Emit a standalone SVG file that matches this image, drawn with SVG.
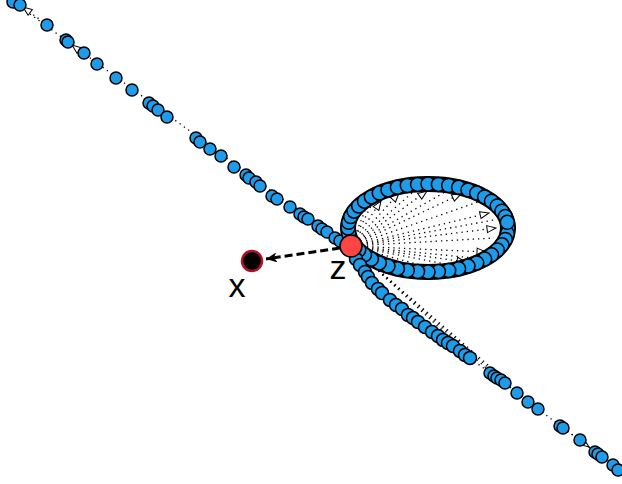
<svg xmlns="http://www.w3.org/2000/svg" width="622" height="484" viewBox="0 0 622 484">
<style>
.d{fill:#1e9be9;stroke:#000;stroke-width:1.5}
.c{fill:none;stroke:#000;stroke-width:1.3;stroke-dasharray:1.3 4}
.band{fill:none;stroke:#000;stroke-width:16}
.lbl{font-family:"Liberation Sans",Arial,sans-serif;font-size:34px;fill:#000;text-anchor:middle}
</style>
<defs>
<marker id="oa" markerUnits="userSpaceOnUse" markerWidth="11" markerHeight="9" refX="10" refY="4.5" orient="auto"><path d="M1,1 L10,4.5 L1,8 z" fill="#fff" stroke="#000" stroke-width="1"/></marker>
<marker id="fa" markerUnits="userSpaceOnUse" markerWidth="12" markerHeight="10" refX="11" refY="5" orient="auto"><path d="M0,0 L11,5 L0,10 L3,5 z" fill="#000"/></marker>
</defs>
<g id="connectors">
<path class="c" d="M0,-8 L340,241"/>
<path class="c" d="M351,246 L472,358"/>
<path class="c" d="M470,358 L622,472"/>
<path class="c" d="M351,246 L486,368"/>
<path class="c" d="M351,246 L510,384"/>
<path class="c" d="M351,246 L498,376"/>
<path class="c" d="M47,25 L23,7" marker-end="url(#oa)"/>
<path class="c" d="M97,64 L72,45" marker-end="url(#oa)"/>
<path class="c" d="M390,300 L424,325" marker-end="url(#oa)"/>
<path class="c" d="M497,378 L522,396" marker-end="url(#oa)"/>
<path class="c" d="M563,428 L589,447" marker-end="url(#oa)"/>
<path class="c" d="M351,246 L381,201" marker-end="url(#oa)"/>
<path class="c" d="M351,246 L399,193" marker-end="url(#oa)"/>
<path class="c" d="M351,246 L427,191" marker-end="url(#oa)"/>
<path class="c" d="M351,246 L461,194" marker-end="url(#oa)"/>
<path class="c" d="M351,246 L489,213" marker-end="url(#oa)"/>
<path class="c" d="M351,246 L496,228" marker-end="url(#oa)"/>
<path class="c" d="M351,246 L486,252" marker-end="url(#oa)"/>
<path class="c" d="M351,246 L466,262" marker-end="url(#oa)"/>
<path class="c" d="M351,246 L366,208"/>
<path class="c" d="M351,246 L372,204"/>
<path class="c" d="M351,246 L412,193"/>
<path class="c" d="M351,246 L445,192"/>
<path class="c" d="M351,246 L478,202"/>
<path class="c" d="M351,246 L494,220"/>
<path class="c" d="M351,246 L494,238"/>
<path class="c" d="M351,246 L474,258"/>
<path class="c" d="M351,246 L445,264"/>
<path class="c" d="M351,246 L420,265"/>
<path d="M340,248 L266,259" fill="none" stroke="#000" stroke-width="3" stroke-dasharray="8 4" marker-end="url(#fa)"/>
</g>
<ellipse class="band" cx="428" cy="228" rx="80" ry="44"/>
<g id="n1"><circle class="d" cx="13" cy="2" r="6"/></g>
<g id="n2"><circle class="d" cx="20" cy="5" r="6"/></g>
<g id="n3"><circle class="d" cx="47" cy="25" r="6"/></g>
<g id="n4"><circle class="d" cx="66" cy="40" r="6"/></g>
<g id="n5"><circle class="d" cx="68" cy="42" r="6"/></g>
<g id="n6"><circle class="d" cx="84" cy="53" r="6"/></g>
<g id="n7"><circle class="d" cx="97" cy="64" r="6"/></g>
<g id="n8"><circle class="d" cx="116" cy="78" r="6"/></g>
<g id="n9"><circle class="d" cx="132" cy="90" r="6"/></g>
<g id="n10"><circle class="d" cx="149" cy="103" r="6"/></g>
<g id="n11"><circle class="d" cx="153" cy="106" r="6"/></g>
<g id="n12"><circle class="d" cx="158" cy="110" r="6"/></g>
<g id="n13"><circle class="d" cx="167" cy="117" r="6"/></g>
<g id="n14"><circle class="d" cx="196" cy="138" r="6"/></g>
<g id="n15"><circle class="d" cx="200" cy="142" r="6"/></g>
<g id="n16"><circle class="d" cx="210" cy="149" r="6"/></g>
<g id="n17"><circle class="d" cx="221" cy="156" r="6"/></g>
<g id="n18"><circle class="d" cx="234" cy="167" r="6"/></g>
<g id="n19"><circle class="d" cx="246" cy="175" r="6"/></g>
<g id="n20"><circle class="d" cx="249" cy="178" r="6"/></g>
<g id="n21"><circle class="d" cx="256" cy="182" r="6"/></g>
<g id="n22"><circle class="d" cx="260" cy="186" r="6"/></g>
<g id="n23"><circle class="d" cx="272" cy="196" r="6"/></g>
<g id="n24"><circle class="d" cx="277" cy="199" r="6"/></g>
<g id="n25"><circle class="d" cx="290" cy="207" r="6"/></g>
<g id="n26"><circle class="d" cx="300" cy="214" r="6"/></g>
<g id="n27"><circle class="d" cx="304" cy="217" r="6"/></g>
<g id="n28"><circle class="d" cx="308" cy="219" r="6"/></g>
<g id="n29"><circle class="d" cx="318" cy="226" r="6"/></g>
<g id="n30"><circle class="d" cx="322" cy="229" r="6"/></g>
<g id="n31"><circle class="d" cx="327" cy="232" r="6"/></g>
<g id="n32"><circle class="d" cx="335" cy="238" r="6"/></g>
<g id="n33"><circle class="d" cx="340" cy="241" r="6"/></g>
<g id="r1"><circle class="d" cx="508" cy="228" r="7"/></g>
<g id="r2"><circle class="d" cx="507.3" cy="233.7" r="7"/></g>
<g id="r3"><circle class="d" cx="505.3" cy="239.4" r="7"/></g>
<g id="r4"><circle class="d" cx="501.9" cy="244.8" r="7"/></g>
<g id="r5"><circle class="d" cx="497.3" cy="250" r="7"/></g>
<g id="r6"><circle class="d" cx="491.5" cy="254.8" r="7"/></g>
<g id="r7"><circle class="d" cx="484.6" cy="259.1" r="7"/></g>
<g id="r8"><circle class="d" cx="476.7" cy="262.9" r="7"/></g>
<g id="r9"><circle class="d" cx="468" cy="266.1" r="7"/></g>
<g id="r10"><circle class="d" cx="458.6" cy="268.7" r="7"/></g>
<g id="r11"><circle class="d" cx="448.7" cy="270.5" r="7"/></g>
<g id="r12"><circle class="d" cx="438.4" cy="271.6" r="7"/></g>
<g id="r13"><circle class="d" cx="428" cy="272" r="7"/></g>
<g id="r14"><circle class="d" cx="417.6" cy="271.6" r="7"/></g>
<g id="r15"><circle class="d" cx="407.3" cy="270.5" r="7"/></g>
<g id="r16"><circle class="d" cx="397.4" cy="268.7" r="7"/></g>
<g id="r17"><circle class="d" cx="388" cy="266.1" r="7"/></g>
<g id="r18"><circle class="d" cx="379.3" cy="262.9" r="7"/></g>
<g id="r19"><circle class="d" cx="371.4" cy="259.1" r="7"/></g>
<g id="r20"><circle class="d" cx="364.5" cy="254.8" r="7"/></g>
<g id="r21"><circle class="d" cx="358.7" cy="250" r="7"/></g>
<g id="r22"><circle class="d" cx="354.1" cy="244.8" r="7"/></g>
<g id="r23"><circle class="d" cx="350.7" cy="239.4" r="7"/></g>
<g id="r24"><circle class="d" cx="348.7" cy="233.7" r="7"/></g>
<g id="r25"><circle class="d" cx="348" cy="228" r="7"/></g>
<g id="r26"><circle class="d" cx="348.7" cy="222.3" r="7"/></g>
<g id="r27"><circle class="d" cx="350.7" cy="216.6" r="7"/></g>
<g id="r28"><circle class="d" cx="354.1" cy="211.2" r="7"/></g>
<g id="r29"><circle class="d" cx="358.7" cy="206" r="7"/></g>
<g id="r30"><circle class="d" cx="364.5" cy="201.2" r="7"/></g>
<g id="r31"><circle class="d" cx="371.4" cy="196.9" r="7"/></g>
<g id="r32"><circle class="d" cx="379.3" cy="193.1" r="7"/></g>
<g id="r33"><circle class="d" cx="388" cy="189.9" r="7"/></g>
<g id="r34"><circle class="d" cx="397.4" cy="187.3" r="7"/></g>
<g id="r35"><circle class="d" cx="407.3" cy="185.5" r="7"/></g>
<g id="r36"><circle class="d" cx="417.6" cy="184.4" r="7"/></g>
<g id="r37"><circle class="d" cx="428" cy="184" r="7"/></g>
<g id="r38"><circle class="d" cx="438.4" cy="184.4" r="7"/></g>
<g id="r39"><circle class="d" cx="448.7" cy="185.5" r="7"/></g>
<g id="r40"><circle class="d" cx="458.6" cy="187.3" r="7"/></g>
<g id="r41"><circle class="d" cx="468" cy="189.9" r="7"/></g>
<g id="r42"><circle class="d" cx="476.7" cy="193.1" r="7"/></g>
<g id="r43"><circle class="d" cx="484.6" cy="196.9" r="7"/></g>
<g id="r44"><circle class="d" cx="491.5" cy="201.2" r="7"/></g>
<g id="r45"><circle class="d" cx="497.3" cy="206" r="7"/></g>
<g id="r46"><circle class="d" cx="501.9" cy="211.2" r="7"/></g>
<g id="r47"><circle class="d" cx="505.3" cy="216.6" r="7"/></g>
<g id="r48"><circle class="d" cx="507.3" cy="222.3" r="7"/></g>
<g id="t1"><circle class="d" cx="356" cy="259" r="6.5"/></g>
<g id="t2"><circle class="d" cx="360" cy="265" r="6.5"/></g>
<g id="t3"><circle class="d" cx="365" cy="272" r="6.5"/></g>
<g id="t4"><circle class="d" cx="368" cy="277" r="6.5"/></g>
<g id="t5"><circle class="d" cx="372" cy="283" r="6.5"/></g>
<g id="t6"><circle class="d" cx="378" cy="289" r="6.5"/></g>
<g id="t7"><circle class="d" cx="382" cy="293" r="6.5"/></g>
<g id="t8"><circle class="d" cx="390" cy="300" r="6.5"/></g>
<g id="t9"><circle class="d" cx="396" cy="305" r="6.5"/></g>
<g id="t10"><circle class="d" cx="402" cy="309" r="6.5"/></g>
<g id="t11"><circle class="d" cx="408" cy="315" r="6.5"/></g>
<g id="t12"><circle class="d" cx="413" cy="318" r="6.5"/></g>
<g id="t13"><circle class="d" cx="418" cy="322" r="6.5"/></g>
<g id="t14"><circle class="d" cx="425" cy="327" r="6.5"/></g>
<g id="t15"><circle class="d" cx="432" cy="332" r="6.5"/></g>
<g id="t16"><circle class="d" cx="438" cy="336" r="6.5"/></g>
<g id="t17"><circle class="d" cx="443" cy="340" r="6.5"/></g>
<g id="t18"><circle class="d" cx="448" cy="343" r="6.5"/></g>
<g id="t19"><circle class="d" cx="453" cy="346" r="6.5"/></g>
<g id="t20"><circle class="d" cx="460" cy="351" r="6.5"/></g>
<g id="t21"><circle class="d" cx="465" cy="355" r="6.5"/></g>
<g id="t22"><circle class="d" cx="470" cy="358" r="6.5"/></g>
<g id="m1"><circle class="d" cx="490" cy="373" r="6"/></g>
<g id="m2"><circle class="d" cx="494" cy="376" r="6"/></g>
<g id="m3"><circle class="d" cx="497" cy="378" r="6"/></g>
<g id="m4"><circle class="d" cx="501" cy="380" r="6"/></g>
<g id="m5"><circle class="d" cx="505" cy="383" r="6"/></g>
<g id="m6"><circle class="d" cx="517" cy="393" r="6"/></g>
<g id="m7"><circle class="d" cx="528" cy="402" r="6"/></g>
<g id="m8"><circle class="d" cx="538" cy="409" r="6"/></g>
<g id="m9"><circle class="d" cx="560" cy="426" r="6"/></g>
<g id="m10"><circle class="d" cx="563" cy="428" r="6"/></g>
<g id="m11"><circle class="d" cx="580" cy="440" r="6"/></g>
<g id="m12"><circle class="d" cx="595" cy="452" r="6"/></g>
<g id="m13"><circle class="d" cx="598" cy="454" r="6"/></g>
<g id="m14"><circle class="d" cx="602" cy="457" r="6"/></g>
<g id="m15"><circle class="d" cx="613" cy="465" r="6"/></g>
<g id="m16"><circle class="d" cx="618" cy="470" r="6"/></g>
<g id="z"><circle cx="351" cy="246" r="11" fill="#ff4444" stroke="#000" stroke-width="1.5"/><text class="lbl" x="338" y="279">z</text></g>
<g id="x"><circle cx="252" cy="261" r="10" fill="#000" stroke="#b0102a" stroke-width="2.5"/><text class="lbl" x="237" y="297">x</text></g>
</svg>
